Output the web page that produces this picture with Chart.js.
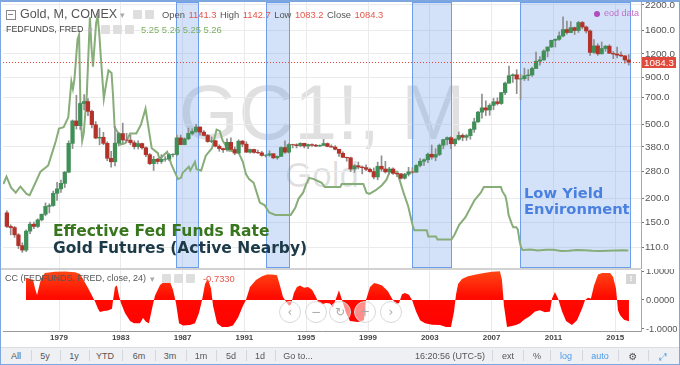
<!DOCTYPE html>
<html>
<head>
<meta charset="utf-8">
<script src="https://cdn.jsdelivr.net/npm/chart.js@4.4.1/dist/chart.umd.min.js"></script>
<style>
  body { margin:0; width:680px; height:365px; overflow:hidden; background:#fff; position:relative;
         font-family:"Liberation Sans", Arial, sans-serif; }
  .a { position:absolute; white-space:nowrap; }
  .wm { color:rgba(0,0,0,0.12); text-align:center; left:3px; width:638px; }
  .note { font-family:"DejaVu Sans", Verdana, sans-serif; font-weight:bold; }
  .red { color:#e4564a; }
  .ico { width:9px; height:9px; background:#dedede; border-radius:1px; }
  .nav { width:20px; height:20px; border:1px solid #d8d8d8; border-radius:50%; background:rgba(255,255,255,0.55);
         color:#aaa; font-size:12px; line-height:20px; text-align:center; font-family:"DejaVu Sans", sans-serif; }
  .tb { top:352px; font-size:9px; line-height:9px; color:#555; transform:translateX(-50%); }
  .sep { top:350px; width:1px; height:11px; background:#d3d7dd; }
  #ohlc { display:flex; left:162px; top:10px; font-size:9.4px; line-height:10px; color:#555; }
  #ohlc span { margin-right:3.5px; }
</style>
</head>
<body>
<div class="a wm" style="top:74px;font-size:77px;line-height:77px">GC1!, M</div>
<div class="a wm" style="top:157px;font-size:35px;line-height:35px">Gold</div>

<div class="a" style="left:0;top:0;width:680px;height:269px"><canvas id="priceChart"></canvas></div>
<div class="a" style="left:0;top:269px;width:680px;height:78px"><canvas id="ccChart"></canvas></div>
<div class="a" style="left:0;top:268px;width:641px;height:2px;background:#d2d2d2"></div>

<!-- legend rows -->
<div class="a" style="left:6px;top:10px;width:8px;height:8px;border:1px solid #888"></div>
<div class="a" style="left:8px;top:14px;width:5px;height:1px;background:#888"></div>
<div class="a" style="left:20px;top:8px;font-size:12.6px;line-height:13px;color:#555">Gold, M, COMEX</div>
<div class="a" style="left:120px;top:10px;font-size:9px;color:#aaa">▾</div>
<div class="a ico" style="left:133px;top:10px"></div>
<div class="a ico" style="left:145px;top:10px"></div>
<div class="a" id="ohlc"></div>

<div class="a" style="left:6px;top:25px;font-size:8.9px;line-height:9px;color:#444">FEDFUNDS, FRED</div>
<div class="a" style="left:88px;top:25px;font-size:9px;color:#aaa">▾</div>
<div class="a ico" style="left:101px;top:25px"></div>
<div class="a ico" style="left:113px;top:25px"></div>
<div class="a ico" style="left:125px;top:25px"></div>
<div class="a" id="fedLegend" style="left:141px;top:25px;font-size:9.4px;line-height:10px;color:#7cb065"></div>

<div class="a" style="left:594px;top:11px;width:6px;height:6px;border-radius:50%;background:#b04cc0"></div>
<div class="a" style="left:604px;top:9px;font-size:9px;line-height:9px;color:#c070c8">eod data</div>

<!-- annotations -->
<div class="a note" style="left:53px;top:224px;font-size:15.5px;line-height:15.5px;color:#38761d">Effective Fed Funds Rate</div>
<div class="a note" style="left:53px;top:241px;font-size:15.5px;line-height:15.5px;color:#1c3a48">Gold Futures (Active Nearby)</div>
<div class="a note" style="left:524px;top:185px;font-size:14.7px;line-height:16px;color:#4a80e0">Low Yield<br>Environment</div>

<!-- lower pane header -->
<div class="a" style="left:5px;top:274px;font-size:9px;line-height:9px;color:#555">CC (FEDFUNDS, FRED, close, 24)</div>
<div class="a" style="left:150px;top:274px;font-size:9px;color:#aaa">▾</div>
<div class="a ico" style="left:162px;top:274px"></div>
<div class="a ico" style="left:174px;top:274px"></div>
<div class="a ico" style="left:186px;top:274px"></div>
<div class="a red" id="ccValue" style="left:203px;top:274px;font-size:9.4px;line-height:10px"></div>
<div class="a" style="left:626px;top:274px;width:10px;height:10px;background:#d5d5d5;color:#fff;font-size:8px;line-height:10px;text-align:center;font-weight:bold">!</div>

<div class="a nav" style="left:279px;top:301px">‹</div>
<div class="a nav" style="left:305px;top:301px">−</div>
<div class="a nav" style="left:329px;top:301px">↻</div>
<div class="a nav" style="left:354px;top:301px">+</div>
<div class="a nav" style="left:380px;top:301px">›</div>

<!-- toolbar -->
<div class="a" style="left:0;top:347px;width:680px;height:18px;background:#eef0f4;border-top:1px solid #dadde2"></div>
<div id="toolbar"></div>

<div class="a" style="left:0;top:0;width:680px;height:365px;box-sizing:border-box;border:1px solid #7ea6df;border-top-width:2px;pointer-events:none"></div>

<script>
// ---- axis / tick labels ----
const yearTicks = [1979, 1983, 1987, 1991, 1995, 1999, 2003, 2007, 2011, 2015];
const priceTicks = [110, 150, 200, 280, 380, 500, 700, 900, 1200, 1600, 2200];
const corrTicks = [-1, 0, 1];

// ---- legend values ----
const ohlcLabels = ['Open', 'High', 'Low', 'Close'];
const ohlcValues = [1141.3, 1142.7, 1083.2, 1084.3];
const fedLegendValues = [5.25, 5.26, 5.25, 5.26];
const ccLast = -0.7330;

// ---- gold futures, quarterly candles from Q3 1975 ----
const firstQuarter = 1975.5;
const goldOpen = [
  168,142, 140,128,112,106, 134,146,142,154, 165,182,184,214, 226,242,278,397,
  524,494,650,666, 590,500,424,428, 397,330,316,398, 448,414,413,400, 381,396,376,345,
  309,326,317,326, 327,345,346,425, 391,420,449,460, 486,456,438,406, 410,383,372,367,
  402,368,352,408, 393,356,368,355, 353,342,343,349, 332,338,377,356, 391,390,386,397,
  384,391,388,384, 387,396,382,379, 369,351,334,332, 289,301,296,294, 288,280,262,299,
  289,279,289,274, 272,258,271,279, 278,302,318,324, 347,335,346,388, 416,426,395,418,
  438,428,437,472, 518,584,616,600, 635,664,650,744, 836,917,927,880, 884,917,926,1003,
  1097,1115,1244,1309, 1421,1439,1500,1624, 1565,1662,1604,1771, 1675,1596,1223,1326,
  1202,1284,1322,1210, 1199,1183,1172,1115
];
const goldHigh = [
  172,145, 142,130,116,136, 150,150,156,166, 190,188,220,245, 252,280,410,530,
  720,660,725,690, 600,520,480,455, 405,360,490,455, 510,450,440,410, 410,398,380,350,
  338,330,345,337, 350,350,440,440, 425,480,475,502, 487,465,443,430, 412,390,375,420,
  425,380,415,412, 405,370,370,365, 360,345,362,350, 340,380,410,396, 393,395,400,398,
  393,395,392,390, 417,399,390,386, 369,357,335,335, 305,315,300,304, 292,293,315,340,
  318,295,293,276, 273,274,295,294, 305,329,328,352, 389,372,394,417, 430,432,420,457,
  447,443,477,542, 590,730,672,648, 693,697,747,848, 1033,940,988,935, 1007,990,1020,1227,
  1163,1265,1306,1424, 1448,1577,1900,1803, 1792,1675,1795,1796, 1697,1616,1434,1362,
  1392,1332,1345,1238, 1308,1232,1176,1191
];
const goldLow = [
  140,128, 124,108,103,104, 130,138,140,152, 162,168,182,196, 216,230,276,372,
  474,470,600,560, 480,420,390,390, 320,296,300,385, 400,402,390,370, 370,370,337,305,
  284,308,310,318, 320,336,340,390, 390,415,440,455, 440,435,402,400, 380,360,355,360,
  365,345,350,380, 355,352,352,350, 339,335,338,328, 326,337,350,352, 375,375,380,375,
  372,382,381,381, 386,380,379,366, 338,333,318,280, 277,289,272,283, 278,256,253,281,
  275,271,270,263, 255,255,265,272, 277,297,302,313, 326,320,341,371, 390,372,385,412,
  410,412,418,455, 515,543,560,562, 603,638,643,725, 835,845,735,681, 864,865,908,1000,
  1045,1110,1157,1300, 1308,1420,1480,1535, 1560,1527,1566,1636, 1555,1180,1208,1180,
  1200,1240,1208,1132, 1142,1162,1072,1046
];
const goldClose = [
  142,140, 128,112,106,134, 146,142,154,165, 182,184,214,226, 242,278,397,524,
  494,650,666,590, 500,424,428,397, 330,316,398,448, 414,413,400,381, 396,376,345,309,
  326,317,326,327, 345,346,425,391, 420,449,460,486, 456,438,406,410, 383,372,367,402,
  368,352,408,393, 356,368,355,353, 342,343,349,332, 338,377,356,391, 390,386,397,384,
  391,388,384,387, 396,382,379,369, 351,334,332,289, 301,296,294,288, 280,262,299,289,
  279,289,274,272, 258,271,279,278, 302,318,324,347, 335,346,388,416, 426,395,418,438,
  428,437,472,518, 584,616,600,635, 664,650,744,836, 917,927,880,884, 917,926,1003,1097,
  1115,1244,1309,1421, 1439,1500,1624,1565, 1662,1604,1771,1675, 1596,1223,1326,1202,
  1284,1322,1210,1199, 1183,1172,1115,1084
];

// ---- effective fed funds rate (%) ----
const fedYears = [
  1975.4,1975.6,1975.9,1976.2,1976.5,1976.9,1977.1,1977.4,1977.8,1978.0,
  1978.3,1978.5,1978.8,1979.0,1979.3,1979.6,1979.8,1979.9,1980.0,1980.2,
  1980.3,1980.4,1980.5,1980.6,1980.8,1980.9,1981.0,1981.1,1981.2,1981.4,
  1981.5,1981.6,1981.7,1981.9,1982.0,1982.2,1982.4,1982.5,1982.6,1982.8,
  1983.0,1983.3,1983.6,1984.0,1984.3,1984.6,1984.8,1985.0,1985.4,1985.5,
  1986.0,1986.3,1986.7,1986.9,1987.0,1987.4,1987.5,1987.8,1987.9,1988.2,
  1988.5,1988.9,1989.2,1989.4,1989.6,1990.0,1990.6,1990.9,1991.1,1991.3,
  1991.6,1991.9,1992.0,1992.3,1992.6,1993.0,1994.0,1994.3,1994.5,1994.8,
  1995.0,1995.2,1995.5,1996.0,1996.2,1997.2,1997.3,1998.7,1998.9,1999.1,
  1999.5,1999.9,2000.2,2000.4,2000.9,2001.0,2001.3,2001.6,2001.9,2002.0,
  2002.8,2002.9,2003.4,2003.5,2004.4,2004.6,2004.9,2005.3,2005.6,2005.9,
  2006.3,2006.5,2007.6,2007.7,2007.9,2008.0,2008.1,2008.3,2008.4,2008.6,
  2008.7,2008.8,2008.9,2009.0,2009.5,2010.0,2010.5,2011.0,2011.5,2012.0,
  2012.5,2013.0,2013.5,2014.0,2014.5,2015.0,2015.5,2015.85
];
const fedRates = [
  5.5,6.1,5.2,4.8,5.3,4.7,4.6,5.4,6.5,6.7,
  7.0,7.8,9.0,10.0,10.1,10.9,13.8,13.2,14.0,17.2,
  17.6,11.0,9.0,9.6,12.8,15.9,19.0,16.6,15.0,18.5,
  19.1,17.8,15.9,12.4,13.2,14.7,14.5,12.6,10.1,9.7,
  8.7,8.8,9.6,9.6,10.3,11.6,10.0,8.4,8.0,7.5,
  8.1,7.0,5.9,6.0,6.4,6.9,6.6,7.3,6.7,6.6,
  7.8,8.4,9.9,9.8,9.0,8.2,8.1,7.3,6.3,5.9,
  5.6,4.4,4.0,3.8,3.2,3.0,3.0,3.6,4.3,4.8,
  5.5,6.0,5.9,5.6,5.25,5.25,5.5,5.5,4.8,4.7,
  5.0,5.4,5.85,6.5,6.5,6.0,4.8,3.7,2.1,1.75,
  1.75,1.25,1.25,1.0,1.0,1.4,2.2,2.8,3.5,4.2,
  4.8,5.25,5.25,4.9,4.5,3.9,3.0,2.3,2.0,2.0,
  1.8,0.97,0.39,0.16,0.2,0.12,0.18,0.17,0.08,0.1,
  0.16,0.14,0.09,0.07,0.09,0.11,0.13,0.12
];

// ---- 24-month correlation coefficient ----
const corrYears = [
  1976.86,1977.12,1977.32,1977.45,1977.58,1977.84,1978.09,1978.74,1979.39,1980.04,
  1980.36,1980.68,1980.88,1981.14,1981.33,1981.52,1981.65,1981.91,1982.17,1982.43,
  1982.50,1982.62,1982.75,1982.88,1983.01,1983.27,1983.60,1983.85,1984.24,1984.44,
  1984.63,1984.82,1985.02,1985.21,1985.54,1985.80,1986.18,1986.38,1986.57,1986.77,
  1987.03,1987.48,1987.80,1988.06,1988.26,1988.45,1988.64,1988.84,1988.97,1989.23,
  1989.55,1989.94,1990.26,1990.59,1990.91,1991.10,1991.36,1991.75,1992.14,1992.46,
  1992.79,1993.11,1993.30,1993.50,1993.69,1993.89,1994.02,1994.21,1994.40,1994.60,
  1994.86,1995.12,1995.38,1995.63,1995.76,1996.02,1996.28,1996.54,1996.73,1996.93,
  1997.12,1997.32,1997.58,1997.83,1998.35,1998.74,1998.87,1999.13,1999.39,1999.65,
  1999.91,2000.29,2000.55,2000.81,2001.01,2001.20,2001.39,2001.65,2001.85,2002.11,
  2002.37,2002.69,2003.14,2003.66,2004.05,2004.37,2004.57,2004.70,2004.83,2005.08,
  2005.47,2005.99,2006.51,2007.03,2007.54,2007.67,2007.80,2008.00,2008.32,2008.58,
  2008.84,2009.10,2009.49,2009.81,2010.13,2010.46,2010.78,2010.91,2011.10,2011.30,
  2011.56,2011.82,2012.20,2012.53,2012.85,2013.05,2013.24,2013.43,2013.63,2013.89,
  2014.15,2014.66,2014.86,2015.05,2015.18,2015.31,2015.57,2015.89
];
const corrValues = [
  0.76,0.72,0.70,0.40,0.17,0.75,0.93,0.97,0.98,0.96,
  0.90,0.60,0.41,0.15,-0.05,-0.30,-0.41,-0.38,-0.36,-0.30,
  0.00,0.45,0.50,0.15,-0.10,-0.45,-0.72,-0.80,-0.80,-0.62,
  -0.75,-0.80,-0.30,0.15,0.52,0.63,0.62,0.35,-0.10,-0.80,
  -0.88,-0.86,-0.80,-0.45,0.00,0.55,0.72,0.40,-0.20,-0.80,
  -0.93,-0.93,-0.88,-0.60,-0.20,0.00,0.45,0.69,0.82,0.88,
  0.88,0.85,0.50,0.10,-0.05,-0.20,-0.15,0.25,0.45,0.50,
  0.42,0.45,0.35,0.10,-0.05,-0.15,-0.10,-0.12,-0.25,0.05,
  0.34,0.00,-0.45,-0.72,-0.76,-0.70,0.00,0.45,0.59,0.55,
  0.50,0.30,0.05,-0.15,-0.10,0.20,0.24,0.18,0.00,-0.40,
  -0.70,-0.80,-0.85,-0.86,-0.93,-0.93,-0.40,0.20,0.55,0.72,
  0.82,0.88,0.93,0.97,0.99,0.70,-0.20,-0.93,-0.90,-0.86,
  -0.80,-0.68,-0.55,-0.40,-0.35,-0.42,-0.40,0.05,0.28,0.05,
  -0.40,-0.72,-0.86,-0.70,-0.30,0.00,0.08,0.05,0.50,0.88,
  0.93,0.93,0.80,0.40,-0.35,-0.52,-0.68,-0.73
];

// ---- highlighted periods (blue boxes) ----
const bandStart = [1986.57, 1992.40, 2001.85, 2008.84];
const bandEnd   = [1988.06, 1993.95, 2004.44, 2016.02];

// ---------------------------------------------------------------
const X_MIN = 1975.375, X_MAX = 2016.67;
const UP = '#3f8f57', DOWN = '#b3322a';
const FONT = '"Liberation Sans", Arial, sans-serif';

// legend text
document.getElementById('ohlc').innerHTML = ohlcLabels.map(function(l, i) {
    return '<span>' + l + '</span><span class="red">' + ohlcValues[i].toFixed(1) + '</span>';
}).join('');
document.getElementById('fedLegend').textContent = fedLegendValues.map(v => v.toFixed(2)).join(' ');
document.getElementById('ccValue').textContent = ccLast.toFixed(4);

// toolbar
var tbItems = [['All',16],['5y',45],['1y',74],['YTD',105],['6m',139],['3m',170],['1m',201],['5d',231],['1d',260],['Go to...',298],
               ['16:20:56 (UTC-5)',450],['ext',508],['%',537],['log',566],['auto',600],['⚙',633],['⤢',663]];
var tbSeps = [31,60,89,122,155,186,216,246,275,492,523,550,582,618,648];
var tbHtml = '';
tbItems.forEach(function(it) {
    var blue = (it[0] === 'log' || it[0] === 'auto' || it[0] === '⤢');
    var fam = (it[0] === '⚙' || it[0] === '⤢') ? 'font-family:\'DejaVu Sans\';font-size:10px;' : '';
    tbHtml += '<div class="a tb" style="left:' + it[1] + 'px;' + fam + (blue ? 'color:#4a9ae8;' : '') + '">' + it[0] + '</div>';
});
tbSeps.forEach(function(x) { tbHtml += '<div class="a sep" style="left:' + x + 'px"></div>'; });
document.getElementById('toolbar').innerHTML = tbHtml;

function setTicks(list) {
    return function(scale) { scale.ticks = list.map(v => ({ value: v })); };
}
// fixed axis size, and no extra room for labels that stick out of the pane
function fixWidth(w) {
    return function(s) { s.width = w; s.paddingTop = 0; s.paddingBottom = 0; };
}
function fixHeight(h) {
    return function(s) { s.height = h; s.paddingLeft = 0; s.paddingRight = 0; };
}

var candleX = goldClose.map((_, i) => firstQuarter + i * 0.25 + 0.125);

var bandsPlugin = {
    id: 'bands',
    beforeDatasetsDraw: function(chart) {
        var c = chart.ctx, area = chart.chartArea, x = chart.scales.x;
        c.save();
        for (var i = 0; i < bandStart.length; i++) {
            var x0 = Math.round(x.getPixelForValue(bandStart[i]));
            var x1 = Math.round(x.getPixelForValue(bandEnd[i]));
            c.fillStyle = 'rgba(109,158,235,0.3)';
            c.fillRect(x0, area.top, x1 - x0, area.bottom - area.top);
            c.strokeStyle = '#6d9eeb';
            c.lineWidth = 1;
            c.strokeRect(x0 + 0.5, area.top + 0.5, x1 - x0 - 1, area.bottom - area.top - 1);
        }
        c.restore();
    }
};

var lastPricePlugin = {
    id: 'lastPrice',
    afterDraw: function(chart) {
        var c = chart.ctx, area = chart.chartArea;
        var price = ohlcValues[3];
        var y = Math.round(chart.scales.y.getPixelForValue(price)) + 0.5;
        c.save();
        c.strokeStyle = '#e8453a';
        c.lineWidth = 1;
        c.setLineDash([1, 2]);
        c.beginPath(); c.moveTo(area.left, y); c.lineTo(area.right, y); c.stroke();
        c.setLineDash([]);
        c.fillStyle = '#e0493b';
        c.fillRect(area.right + 1, y - 5.5, 34, 11);
        c.fillStyle = '#fff';
        c.font = '9.8px ' + FONT;
        c.textAlign = 'center';
        c.textBaseline = 'middle';
        c.fillText(price.toFixed(1), area.right + 18, y + 0.5);
        c.restore();
    }
};

new Chart(document.getElementById('priceChart'), {
    type: 'bar',
    data: {
        datasets: [{
            type: 'line',
            label: 'FEDFUNDS, FRED',
            yAxisID: 'yFed',
            data: fedYears.map((x, i) => ({ x: x, y: fedRates[i] })),
            borderColor: '#87ad79',
            borderWidth: 2,
            pointRadius: 0,
            tension: 0,
            order: 3
        }, {
            type: 'bar',
            label: 'wick',
            yAxisID: 'y',
            data: candleX.map((x, i) => ({ x: x, y: [goldLow[i], goldHigh[i]] })),
            backgroundColor: '#8e8e8e',
            barThickness: 1,
            grouped: false,
            order: 2
        }, {
            type: 'bar',
            label: 'Gold, M, COMEX',
            yAxisID: 'y',
            data: candleX.map((x, i) => ({ x: x, y: [goldOpen[i], goldClose[i]] })),
            backgroundColor: goldClose.map((c, i) => c >= goldOpen[i] ? UP : DOWN),
            barThickness: 3.6,
            grouped: false,
            order: 1
        }]
    },
    options: {
        responsive: true,
        maintainAspectRatio: false,
        animation: false,
        layout: { padding: { left: 3, top: 2, right: 0, bottom: 1 } },
        plugins: { legend: { display: false }, tooltip: { enabled: false } },
        scales: {
            x: {
                type: 'linear', min: X_MIN, max: X_MAX, offset: false,
                afterBuildTicks: setTicks(yearTicks),
                ticks: { display: false },
                grid: { color: '#ebebeb', drawTicks: false, offset: false },
                border: { display: false },
                afterFit: fixHeight(0)
            },
            y: {
                type: 'logarithmic', position: 'right', min: 84.9, max: 2283,
                afterBuildTicks: setTicks(priceTicks),
                ticks: {
                    autoSkip: false,
                    color: '#555',
                    font: { size: 9.8, family: FONT },
                    padding: 1,
                    callback: function(value) { return Number(value).toFixed(1); }
                },
                grid: { color: '#ebebeb', tickLength: 3, tickColor: '#777' },
                border: { color: '#a8a8a8' },
                afterFit: fixWidth(39)
            },
            yFed: { type: 'linear', display: false, min: -1.3, max: 20.24 }
        }
    },
    plugins: [bandsPlugin, lastPricePlugin]
});

new Chart(document.getElementById('ccChart'), {
    type: 'line',
    data: {
        datasets: [{
            label: 'CC (FEDFUNDS, FRED, close, 24)',
            data: corrYears.map((x, i) => ({ x: x, y: corrValues[i] })),
            fill: 'origin',
            borderWidth: 0,
            borderColor: 'rgba(0,0,0,0)',
            pointRadius: 0,
            tension: 0,
            backgroundColor: function(ctx) {
                var chart = ctx.chart, area = chart.chartArea;
                if (!area) return '#ff1a00';
                var g = chart.ctx.createLinearGradient(0, area.top, 0, area.bottom);
                g.addColorStop(0, '#ff4a14');
                g.addColorStop(0.45, '#ff0a00');
                g.addColorStop(1, '#ff0000');
                return g;
            }
        }]
    },
    options: {
        responsive: true,
        maintainAspectRatio: false,
        animation: false,
        layout: { padding: { left: 3, top: 1, right: 0, bottom: 0 } },
        plugins: { legend: { display: false }, tooltip: { enabled: false } },
        scales: {
            x: {
                type: 'linear', min: X_MIN, max: X_MAX,
                afterBuildTicks: setTicks(yearTicks),
                ticks: {
                    autoSkip: false, maxRotation: 0, padding: 2,
                    color: '#444',
                    font: { size: 8, weight: 'bold', family: FONT },
                    callback: function(value) { return String(value); }
                },
                grid: { color: '#ebebeb', drawTicks: false },
                border: { color: '#999' },
                afterFit: fixHeight(16)
            },
            y: {
                position: 'right', min: -1.069, max: 1.0345,
                afterBuildTicks: setTicks(corrTicks),
                ticks: {
                    autoSkip: false,
                    color: '#555',
                    font: { size: 9.3, family: FONT },
                    padding: 2,
                    callback: function(value) { return Number(value).toFixed(4); }
                },
                grid: { drawOnChartArea: false, tickLength: 3, tickColor: '#777' },
                border: { color: '#a8a8a8' },
                afterFit: fixWidth(39)
            }
        }
    }
});
</script>
</body>
</html>
